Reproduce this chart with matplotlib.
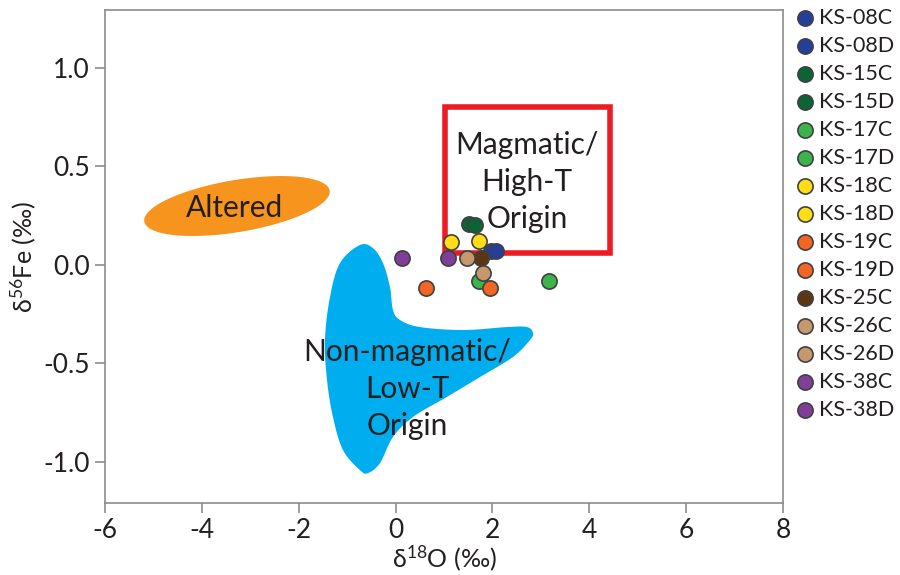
import numpy as np
import matplotlib
matplotlib.use("Agg")
import matplotlib.pyplot as plt
from matplotlib.patches import Rectangle, Polygon

plt.rcParams['font.family'] = ['Lato', 'DejaVu Sans']
plt.rcParams['mathtext.fontset'] = 'custom'
plt.rcParams['mathtext.rm'] = 'Lato'
plt.rcParams['mathtext.it'] = 'Lato:italic'
plt.rcParams['mathtext.default'] = 'regular'

TEXT = '#231f20'
GRAY = '#8c8c8c'

# ---- data ----
samples = ['KS-08C', 'KS-08D', 'KS-15C', 'KS-15D', 'KS-17C', 'KS-17D', 'KS-18C',
           'KS-18D', 'KS-19C', 'KS-19D', 'KS-25C', 'KS-26C', 'KS-26D', 'KS-38C', 'KS-38D']
d18O = [1.98, 2.07, 1.52, 1.64, 1.73, 3.17, 1.14, 1.73, 0.62, 1.95, 1.76, 1.48, 1.81, 0.13, 1.09]
d56Fe = [0.072, 0.072, 0.21, 0.202, -0.081, -0.081, 0.117, 0.12, -0.119, -0.119, 0.033, 0.033, -0.04, 0.033, 0.033]
colors = ['#233f99', '#233f99', '#0b6434', '#0b6434', '#3bb44a', '#3bb44a', '#ffde17',
          '#ffde17', '#f26522', '#f26522', '#5c3512', '#c49a6c', '#c49a6c', '#7f3f98', '#7f3f98']

x_ticks = [-6, -4, -2, 0, 2, 4, 6, 8]
y_ticks = [-1.0, -0.5, 0.0, 0.5, 1.0]

# field outlines (data coordinates)
blob_x = [-0.735, -1.148, -1.355, -1.458, -1.416, -1.293, -1.086, -0.735, -0.570, -0.322,
          -0.054, 0.359, 1.061, 1.743, 2.424, 2.775, 2.837, 2.713, 2.300, 1.392,
          0.504, 0.091, -0.054, -0.116, -0.260, -0.467]
blob_y = [0.101, 0.009, -0.164, -0.382, -0.585, -0.773, -0.941, -1.043, -1.058, -1.007,
          -0.875, -0.773, -0.671, -0.570, -0.468, -0.382, -0.346, -0.316, -0.316, -0.331,
          -0.316, -0.280, -0.229, -0.113, 0.009, 0.085]
altered_center = (-3.275, 0.299)
magmatic_box = (1.03, 0.06, 4.42, 0.80)  # x0, y0, x1, y1


def catmull_rom_closed(xs, ys, n=20):
    P = np.column_stack([xs, ys])
    N = len(P)
    out = []
    for i in range(N):
        p0, p1, p2, p3 = P[(i - 1) % N], P[i], P[(i + 1) % N], P[(i + 2) % N]
        t = np.linspace(0, 1, n, endpoint=False)[:, None]
        pts = 0.5 * ((2 * p1) + (-p0 + p2) * t + (2 * p0 - 5 * p1 + 4 * p2 - p3) * t ** 2
                     + (-p0 + 3 * p1 - 3 * p2 + p3) * t ** 3)
        out.append(pts)
    return np.vstack(out)


fig = plt.figure(figsize=(9, 5.75), dpi=100)
ax = fig.add_axes([105 / 900, 1 - 503 / 575, (783 - 105) / 900, (503 - 10) / 575])
ax.set_xlim(-6, 8)
ax.set_ylim(-1.21, 1.295)

# blue non-magmatic field
pts = catmull_rom_closed(blob_x, blob_y)
ax.add_patch(Polygon(pts, closed=True, facecolor='#00aeef', edgecolor='none', zorder=1))

# orange altered ellipse (shape built in pixel scale then converted)
pxu, pyu = 48.43, 196.8
t = np.linspace(0, 2 * np.pi, 200)
a_, b_, th = 94.0, 26.0, np.deg2rad(9.5)
dx = a_ * np.cos(th) * np.cos(t) - b_ * np.sin(th) * np.sin(t)
dy = a_ * np.sin(th) * np.cos(t) + b_ * np.cos(th) * np.sin(t)
ell = np.column_stack([altered_center[0] + dx / pxu, altered_center[1] + dy / pyu])
ax.add_patch(Polygon(ell, closed=True, facecolor='#f7941d', edgecolor='none', zorder=1))

# red magmatic box
x0, y0, x1, y1 = magmatic_box
ax.add_patch(Rectangle((x0, y0), x1 - x0, y1 - y0, fill=False, edgecolor='#ed1c24',
                       linewidth=4, zorder=2))

# text labels
ax.text(altered_center[0] - 0.04, altered_center[1] - 0.01, 'Altered', ha='center', va='center',
        fontsize=21.5, color=TEXT, zorder=3)
ax.text(2.71, 0.42, 'Magmatic/\nHigh-T\nOrigin', ha='center', va='center', fontsize=21.5,
        color=TEXT, linespacing=1.40, zorder=3)
ax.text(0.24, -0.63, 'Non-magmatic/\nLow-T\nOrigin', ha='center', va='center', fontsize=21.5,
        color=TEXT, linespacing=1.40, zorder=3)

# points
handles = []
for name, xv, yv, c in zip(samples, d18O, d56Fe, colors):
    h = ax.scatter([xv], [yv], s=120, color=c, edgecolors='#414042', linewidths=1.2,
                   zorder=4, label=name)
    handles.append(h)

# axes styling
for side in ['left', 'right', 'top', 'bottom']:
    ax.spines[side].set_color(GRAY)
    ax.spines[side].set_linewidth(1.2)
ax.set_xticks(x_ticks)
ax.set_xticklabels([f'{v:d}' for v in x_ticks])
ax.set_yticks(y_ticks)
ax.set_yticklabels([f'{v:.1f}' for v in y_ticks])
ax.tick_params(direction='out', length=7, width=1.2, color=GRAY, labelsize=19,
               labelcolor=TEXT, pad=4)
ax.set_xlabel('δ$^{18}$O (‰)', fontsize=18, color=TEXT, labelpad=0)
ax.set_ylabel('δ$^{56}$Fe (‰)', fontsize=18, color=TEXT, labelpad=4)

leg = fig.legend(handles=handles, loc='upper left', bbox_to_anchor=(795 / 900, 1 - 8 / 575),
                 frameon=False, fontsize=15.5, handlelength=0.9, handletextpad=0.2,
                 labelspacing=0.37, borderpad=0, borderaxespad=0, markerscale=1.0)
for txt in leg.get_texts():
    txt.set_color(TEXT)

fig.savefig('out.png', dpi=100)
